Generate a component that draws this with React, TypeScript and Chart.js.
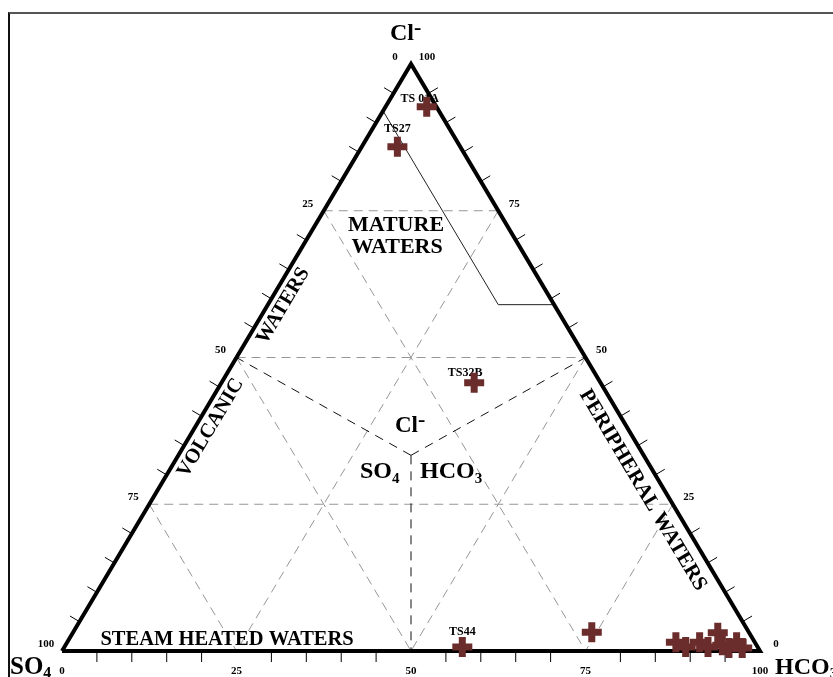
import React, { useEffect, useRef } from "react";
import { Chart, registerables } from "chart.js";

Chart.register(...registerables);

// ---------------- data ----------------
const SAMPLE_NAMES = ["TS 01A", "TS27", "TS32B", "TS44", "", "", "", "", "", "", "", "", "", ""];
const CL_PCT = [92.7, 85.9, 45.7, 0.7, 3.2, 1.5, 0.7, 1.5, 0.7, 3.1, 1.0, 0.5, 1.5, 0.5];
const SO4_PCT = [1.4, 9.0, 18.1, 42.3, 22.5, 11.3, 10.3, 7.9, 7.1, 4.5, 4.9, 4.2, 2.6, 2.3];
const HCO3_PCT = [5.9, 5.1, 36.2, 57.0, 74.3, 87.2, 89.0, 90.6, 92.2, 92.4, 94.1, 95.3, 95.9, 97.2];

const MAJOR_TICKS = [0, 25, 50, 75, 100];
const MINOR_STEP = 5;
const GRID_LEVELS = [25, 50, 75];

// mature-waters boundary (Cl, SO4, HCO3)
const MATURE_CL = [92, 59, 59];
const MATURE_SO4 = [8, 8, 0];
const MATURE_HCO3 = [0, 33, 41];

// field boundaries from the centroid
const FIELD_END_CL = [50, 50, 0];
const FIELD_END_SO4 = [50, 0, 50];
const FIELD_END_HCO3 = [0, 50, 50];

// ---------------- styling / layout ----------------
const FONT = "'Liberation Serif', 'Times New Roman', serif";
const MARKER_COLOR = "#6b2c2c";
const GRID_COLOR = "#969696";
const X_MIN = -8.883;
const X_MAX = 110.458;
const Y_MIN = -4.429;
const Y_MAX = 110.903;
const LABEL_OFFSETS: [number, number][] = [[-7, -8], [0, -18], [-9, -10], [0, -15]];

function tern(cl: number, so4: number, hco3: number) {
  const t = cl + so4 + hco3;
  const c = (cl / t) * 100;
  const h = (hco3 / t) * 100;
  return { x: h + c / 2, y: c };
}

function lineDs(pts: { x: number; y: number }[], color: string, width: number, dash: number[], order: number) {
  return {
    type: "scatter" as const,
    data: pts,
    showLine: true,
    borderColor: color,
    backgroundColor: color,
    borderWidth: width,
    borderDash: dash,
    pointRadius: 0,
    pointHoverRadius: 0,
    tension: 0,
    borderJoinStyle: "miter" as const,
    clip: false as any,
    order,
  };
}

function drawParts(ctx: CanvasRenderingContext2D, parts: [string, number, number][], x: number, y: number) {
  let cx = x;
  for (const [t, size, dy] of parts) {
    ctx.font = `bold ${size}px ${FONT}`;
    ctx.textAlign = "left";
    ctx.textBaseline = "alphabetic";
    ctx.fillText(t, cx, y + dy);
    cx += ctx.measureText(t).width;
  }
}

function rotated(ctx: CanvasRenderingContext2D, text: string, x: number, y: number, ang: number, size: number) {
  ctx.save();
  ctx.translate(x, y);
  ctx.rotate(ang);
  ctx.font = `bold ${size}px ${FONT}`;
  ctx.textAlign = "center";
  ctx.textBaseline = "middle";
  ctx.fillText(text, 0, 0);
  ctx.restore();
}

const decorPlugin = {
  id: "ternaryDecor",
  beforeDatasetDraw(chart: any, args: any) {
    if (args.index !== 0) return;
    const ctx: CanvasRenderingContext2D = chart.ctx;
    const xs = chart.scales.x;
    const ys = chart.scales.y;
    const P = (cl: number, so4: number, hco3: number) => {
      const d = tern(cl, so4, hco3);
      return { x: xs.getPixelForValue(d.x), y: ys.getPixelForValue(d.y) };
    };
    const A = P(0, 100, 0); // SO4
    const B = P(100, 0, 0); // Cl
    const C = P(0, 0, 100); // HCO3
    const G = P(1, 1, 1);
    const outward = (p: { x: number; y: number }, q: { x: number; y: number }) => {
      const dx = q.x - p.x, dy = q.y - p.y;
      const L = Math.hypot(dx, dy);
      let nx = dy / L, ny = -dx / L;
      const mx = (p.x + q.x) / 2 - G.x, my = (p.y + q.y) / 2 - G.y;
      if (nx * mx + ny * my < 0) { nx = -nx; ny = -ny; }
      return { nx, ny };
    };
    const nL = outward(A, B);
    const nR = outward(B, C);
    const nB = outward(A, C);
    ctx.save();
    // minor ticks
    ctx.strokeStyle = "#000";
    ctx.lineWidth = 1;
    const TL = 11;
    for (let v = MINOR_STEP; v < 100; v += MINOR_STEP) {
      if (v % 25 === 0) continue;
      const segs = [
        [P(0, 100 - v, v), nB],
        [P(v, 100 - v, 0), nL],
        [P(v, 0, 100 - v), nR],
      ] as any[];
      for (const [p, n] of segs) {
        ctx.beginPath();
        ctx.moveTo(p.x, p.y);
        ctx.lineTo(p.x + n.nx * TL, p.y + n.ny * TL);
        ctx.stroke();
      }
    }
    // tick labels
    ctx.fillStyle = "#000";
    ctx.font = `bold 11px ${FONT}`;
    ctx.textAlign = "center";
    ctx.textBaseline = "middle";
    for (const v of MAJOR_TICKS) {
      const pb = P(0, 100 - v, v);
      ctx.fillText(String(v), pb.x, pb.y + 20);
      const pl = P(100 - v, v, 0);
      ctx.fillText(String(v), pl.x - 16, pl.y - 7);
      const pr = P(v, 0, 100 - v);
      ctx.fillText(String(v), pr.x + 16, pr.y - 7);
    }
    // vertex labels
    drawParts(ctx, [["Cl", 24, 0], ["-", 22, -6]], B.x - 21, B.y - 24);
    drawParts(ctx, [["SO", 25, 0], ["4", 16, 4]], A.x - 52, A.y + 23);
    drawParts(ctx, [["HCO", 24, 0], ["3", 15, 4]], C.x + 15, C.y + 23);
    // center labels
    drawParts(ctx, [["Cl", 23, 0], ["-", 22, -6]], G.x - 16, G.y - 23);
    drawParts(ctx, [["SO", 24, 0], ["4", 15, 5]], G.x - 51, G.y + 23);
    drawParts(ctx, [["HCO", 24, 0], ["3", 15, 5]], G.x + 9, G.y + 23);
    // field names
    const angL = Math.atan2(B.y - A.y, B.x - A.x);
    const angR = Math.atan2(C.y - B.y, C.x - B.x);
    let p = P(38, 59.7, 2.3);
    rotated(ctx, "VOLCANIC", p.x, p.y, angL, 20.5);
    p = P(58.8, 38.9, 2.3);
    rotated(ctx, "WATERS", p.x, p.y, angL, 20.5);
    p = P(27.4, 3.1, 69.5);
    rotated(ctx, "PERIPHERAL WATERS", p.x, p.y, angR, 21);
    p = P(72.5, 15.9, 11.6);
    rotated(ctx, "MATURE", p.x, p.y, 0, 22);
    p = P(68.8, 17.6, 13.6);
    rotated(ctx, "WATERS", p.x, p.y, 0, 22);
    p = P(1.9, 75.4, 22.7);
    rotated(ctx, "STEAM HEATED WATERS", p.x, p.y, 0, 20.5);
    // sample labels
    const meta = chart.getDatasetMeta(0);
    ctx.font = `bold 12px ${FONT}`;
    ctx.textAlign = "center";
    ctx.textBaseline = "middle";
    SAMPLE_NAMES.forEach((name, i) => {
      if (!name) return;
      const el = meta.data[i];
      const off = LABEL_OFFSETS[i] || [0, -15];
      ctx.fillText(name, el.x + off[0], el.y + off[1]);
    });
    ctx.restore();
  },
};

export default function App() {
  const ref = useRef<HTMLCanvasElement | null>(null);
  useEffect(() => {
    if (!ref.current) return;
    const datasets: any[] = [];
    // samples (drawn on top)
    datasets.push({
      type: "scatter",
      data: SAMPLE_NAMES.map((_, i) => tern(CL_PCT[i], SO4_PCT[i], HCO3_PCT[i])),
      pointStyle: "cross",
      pointRadius: 10,
      pointHoverRadius: 10,
      borderColor: MARKER_COLOR,
      backgroundColor: MARKER_COLOR,
      pointBorderWidth: 7,
      borderWidth: 7,
      showLine: false,
      clip: false,
      order: 0,
    });
    // triangle outline
    datasets.push(
      lineDs([tern(0, 100, 0), tern(100, 0, 0), tern(0, 0, 100), tern(0, 100, 0)], "#000", 4, [], 1)
    );
    // mature boundary
    datasets.push(
      lineDs(MATURE_CL.map((c, i) => tern(c, MATURE_SO4[i], MATURE_HCO3[i])), "#222", 1, [], 2)
    );
    // field boundaries
    FIELD_END_CL.forEach((c, i) => {
      datasets.push(lineDs([tern(1, 1, 1), tern(c, FIELD_END_SO4[i], FIELD_END_HCO3[i])], "#111", 1, [9, 7], 3));
    });
    // grid
    GRID_LEVELS.forEach((L) => {
      datasets.push(lineDs([tern(L, 100 - L, 0), tern(L, 0, 100 - L)], GRID_COLOR, 1, [9, 6], 4));
      datasets.push(lineDs([tern(100 - L, L, 0), tern(0, L, 100 - L)], GRID_COLOR, 1, [9, 6], 4));
      datasets.push(lineDs([tern(100 - L, 0, L), tern(0, 100 - L, L)], GRID_COLOR, 1, [9, 6], 4));
    });
    const chart = new Chart(ref.current, {
      type: "scatter",
      data: { datasets },
      options: {
        animation: false,
        responsive: false,
        maintainAspectRatio: false,
        events: [],
        layout: { padding: 0, autoPadding: false },
        plugins: {
          legend: { display: false },
          tooltip: { enabled: false },
          title: { display: false },
        },
        scales: {
          x: { type: "linear", display: false, min: X_MIN, max: X_MAX },
          y: { type: "linear", display: false, min: Y_MIN, max: Y_MAX },
        },
      },
      plugins: [decorPlugin],
    } as any);
    return () => chart.destroy();
  }, []);
  return (
    <div style={{ position: "fixed", left: 0, top: 0, width: 833, height: 677, background: "#fff", overflow: "hidden" }}>
      <div
        style={{
          position: "absolute",
          left: 8,
          top: 12,
          width: 830,
          height: 670,
          boxSizing: "border-box",
          borderTop: "2px solid #555",
          borderLeft: "2px solid #111",
        }}
      />
      <canvas ref={ref} width={833} height={677} style={{ position: "absolute", left: 0, top: 0, width: 833, height: 677 }} />
    </div>
  );
}
